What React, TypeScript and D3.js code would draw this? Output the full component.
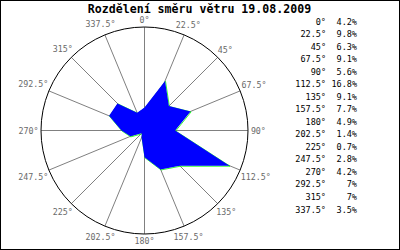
import React from "react";
import * as d3 from "d3";

const title = "Rozdělení směru větru 19.08.2009";
const directions = [0, 22.5, 45, 67.5, 90, 112.5, 135, 157.5, 180, 202.5, 225, 247.5, 270, 292.5, 315, 337.5];
const directionLabels = ["0°", "22.5°", "45°", "67.5°", "90°", "112.5°", "135°", "157.5°", "180°", "202.5°", "225°", "247.5°", "270°", "292.5°", "315°", "337.5°"];
const percentages = [4.2, 9.8, 6.3, 9.1, 5.6, 16.8, 9.1, 7.7, 4.9, 1.4, 0.7, 2.8, 4.2, 7, 7, 3.5];
const percentLabels = ["4.2%", "9.8%", "6.3%", "9.1%", "5.6%", "16.8%", "9.1%", "7.7%", "4.9%", "1.4%", "0.7%", "2.8%", "4.2%", "7%", "7%", "3.5%"];
const scaleMax = 18.9;

const W = 400;
const H = 250;
const cx = 144.5;
const cy = 130.5;
const R = 103.5;
const mono = "'DejaVu Sans Mono', monospace";
const charW = 5;

export default function App() {
  const r = d3.scaleLinear().domain([0, scaleMax]).range([0, R]);
  const rad = (deg: number) => (deg * Math.PI) / 180;
  const rowY = d3.scaleLinear().domain([0, directions.length - 1]).range([21.5, 209.5]);

  const line = d3
    .lineRadial<number>()
    .angle((_, i) => rad(directions[i]))
    .radius((d) => r(d))
    .curve(d3.curveLinearClosed);
  const path = line(percentages) || "";

  return (
    <div style={{ position: "absolute", left: 0, top: 0 }}>
      <svg width={W} height={H} style={{ display: "block" }}>
        <rect x={0} y={0} width={W} height={H} fill="#fff" />
        <text
          x={199.5}
          y={9}
          textAnchor="middle"
          dominantBaseline="central"
          fontFamily={mono}
          fontWeight="bold"
          fontSize={11.6}
          fill="#000"
        >
          {title}
        </text>
        <g transform={`translate(${cx},${cy})`}>
          {directions.map((deg, i) => {
            const a = rad(deg);
            return (
              <line
                key={"s" + i}
                x1={0}
                y1={0}
                x2={R * Math.sin(a)}
                y2={-R * Math.cos(a)}
                stroke="#808080"
                strokeWidth={1}
              />
            );
          })}
          <circle r={R} fill="none" stroke="#000" strokeWidth={1} />
          <path d={path} transform="translate(0.5,0.5)" fill="none" stroke="#00ff00" strokeWidth={0.8} />
          <path d={path} fill="#0000ff" stroke="none" />
          {directions.map((deg, i) => {
            const a = rad(deg);
            const hw = (directionLabels[i].length * charW) / 2;
            const lr = R + 4 + 3 * Math.abs(Math.cos(a)) + hw * Math.abs(Math.sin(a)) * 0.85;
            return (
              <text
                key={"l" + i}
                x={lr * Math.sin(a)}
                y={-lr * Math.cos(a)}
                textAnchor="middle"
                dominantBaseline="central"
                fontFamily={mono}
                fontSize={8.3}
                fill="#6a6a6a"
              >
                {directionLabels[i]}
              </text>
            );
          })}
        </g>
        {directions.map((deg, i) => (
          <g key={"lg" + i}>
            <text
              x={326}
              y={rowY(i)}
              textAnchor="end"
              dominantBaseline="central"
              fontFamily={mono}
              fontSize={8.5}
              fill="#000"
            >
              {directionLabels[i]}
            </text>
            <text
              x={357}
              y={rowY(i)}
              textAnchor="end"
              dominantBaseline="central"
              fontFamily={mono}
              fontSize={8.5}
              fill="#000"
            >
              {percentLabels[i]}
            </text>
          </g>
        ))}
        <rect x={0.5} y={0.5} width={W - 1} height={H - 1} fill="none" stroke="#000" strokeWidth={1} />
      </svg>
    </div>
  );
}
